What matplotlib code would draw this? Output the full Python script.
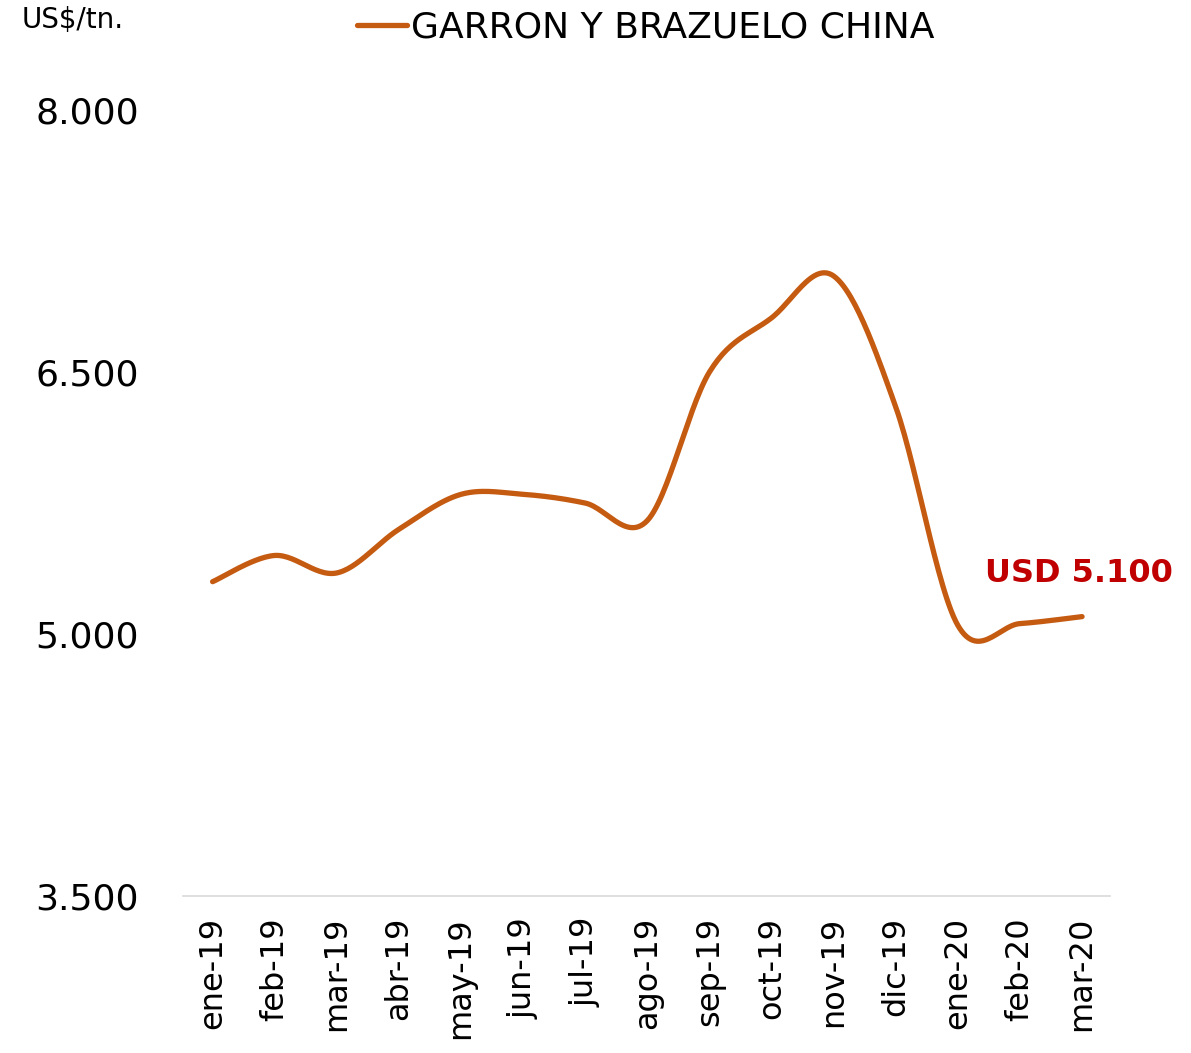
import numpy as np
import matplotlib.pyplot as plt

plt.rcParams['font.family'] = ['DejaVu Sans']

# data
months = ["ene-19", "feb-19", "mar-19", "abr-19", "may-19", "jun-19", "jul-19",
          "ago-19", "sep-19", "oct-19", "nov-19", "dic-19", "ene-20", "feb-20", "mar-20"]
prices = [5300, 5450, 5350, 5600, 5800, 5800, 5750,
          5650, 6500, 6810, 7050, 6300, 5050, 5060, 5100]
y_ticks = [3500, 5000, 6500, 8000]
series_name = "GARRON Y BRAZUELO CHINA"
last_label = "USD 5.100"
line_color = "#C55A11"


def smooth(x, y, steps=30):
    # Excel-like smoothed line: cubic bezier through points (catmull-rom style)
    x = np.asarray(x, float)
    y = np.asarray(y, float)
    px = np.concatenate([[x[0]], x, [x[-1]]])
    py = np.concatenate([[y[0]], y, [y[-1]]])
    xs, ys = [], []
    t = np.linspace(0, 1, steps)
    for i in range(1, len(px) - 2):
        p0 = np.array([px[i], py[i]])
        p3 = np.array([px[i + 1], py[i + 1]])
        c1 = p0 + (np.array([px[i + 1], py[i + 1]]) - np.array([px[i - 1], py[i - 1]])) / 6
        c2 = p3 - (np.array([px[i + 2], py[i + 2]]) - np.array([px[i], py[i]])) / 6
        b = ((1 - t) ** 3)[:, None] * p0 + (3 * (1 - t) ** 2 * t)[:, None] * c1 \
            + (3 * (1 - t) * t ** 2)[:, None] * c2 + (t ** 3)[:, None] * p3
        xs.extend(b[:, 0])
        ys.extend(b[:, 1])
    return np.array(xs), np.array(ys)


fig = plt.figure(figsize=(11.91, 10.53), dpi=100)
ax = fig.add_axes([0.154, 0.149, 0.778, 0.7465])

xi = np.arange(len(months))
sx, sy = smooth(xi, prices)
ax.plot(sx, sy, color=line_color, lw=3.8, solid_capstyle='round', label=series_name)

ax.set_xlim(-0.47, 14.45)
ax.set_ylim(3500, 8000)
ax.set_yticks(y_ticks)
ax.set_yticklabels([f"{v:,}".replace(",", ".") for v in y_ticks], fontsize=26)
ax.set_xticks(xi)
ax.set_xticklabels(months, rotation=90, fontsize=23)
ax.tick_params(length=0)
ax.tick_params(axis='x', pad=15)
ax.tick_params(axis='y', pad=32)

for s in ['top', 'right', 'left']:
    ax.spines[s].set_visible(False)
ax.spines['bottom'].set_color('#D9D9D9')
ax.spines['bottom'].set_linewidth(1.2)

ax.annotate(last_label, (xi[-1], prices[-1]), xytext=(1079, 1053 - 574), textcoords='figure pixels',
            ha='center', va='center', fontsize=23, fontweight='bold', color='#C00000')

fig.legend(loc='center', bbox_to_anchor=(0.542, 1 - 28 / 1053), frameon=False,
           fontsize=26, handlelength=1.4, handletextpad=0.1)
fig.text(22 / 1191, 1 - 20 / 1053, "US$/tn.", fontsize=20, va='center', ha='left')

fig.savefig("out.png", dpi=100)
